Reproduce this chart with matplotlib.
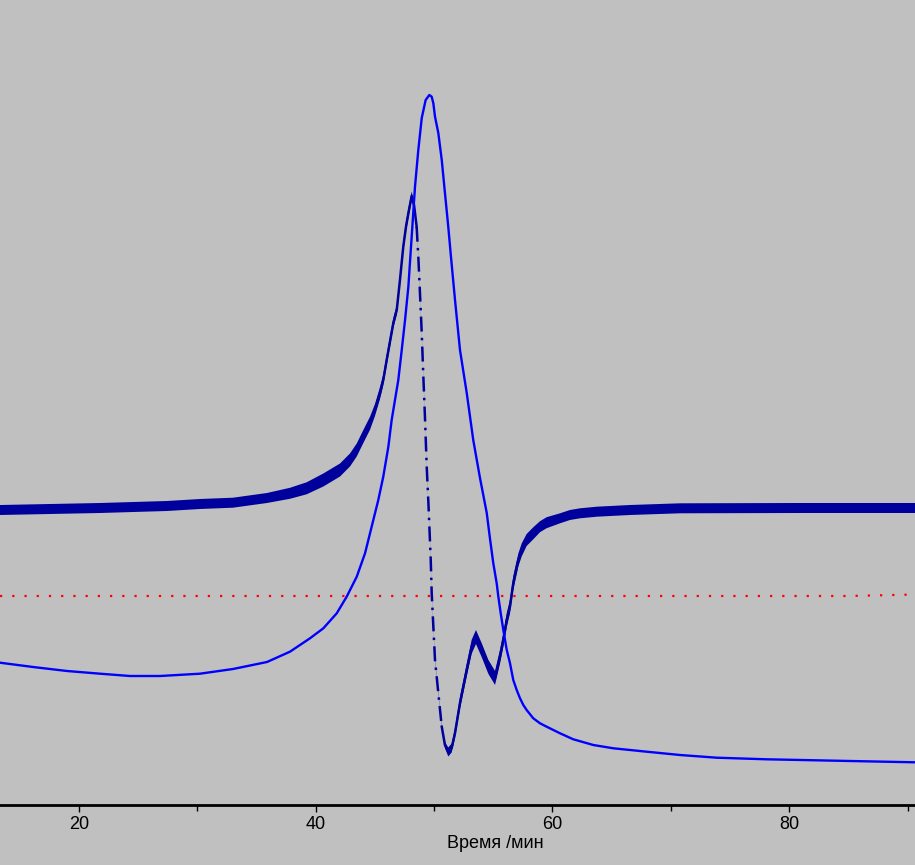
import matplotlib
matplotlib.use('Agg')
import matplotlib.pyplot as plt
from matplotlib.ticker import MultipleLocator

plt.rcParams['font.family'] = ['Liberation Sans', 'DejaVu Sans']

# время, мин / сигнал (отн. ед.)
t_uv = [13.35, 16.14, 19.01, 21.80, 24.33, 26.86, 30.24, 33.03, 35.90, 37.84,
        39.53, 40.66, 41.79, 42.63, 43.48, 44.18, 44.74, 45.30, 45.72, 46.15,
        46.43, 46.71, 46.99, 47.28, 47.56, 47.84, 48.12, 48.40, 48.68, 48.97,
        49.30, 49.61, 49.81, 49.95, 50.09, 50.37, 50.66, 50.93, 51.21, 51.44,
        51.78, 52.20, 52.77, 53.32, 53.89, 54.46, 54.73, 55.01, 55.30, 55.44,
        55.64, 55.86, 56.15, 56.42, 56.70, 56.99, 57.27, 57.55, 57.83, 58.39,
        58.96, 59.52, 60.65, 61.77, 63.46, 65.15, 67.97, 70.78, 73.88, 78.10,
        85.14, 90.63]
uv = [14.23, 13.80, 13.40, 13.13, 12.90, 12.90, 13.13, 13.60, 14.30, 15.33,
      16.67, 17.67, 19.17, 20.83, 22.83, 25.17, 27.83, 30.50, 32.83, 35.83,
      38.50, 40.50, 42.50, 45.50, 48.50, 51.83, 56.83, 61.83, 65.50, 68.70,
      70.50, 71.00, 70.83, 70.17, 68.83, 67.20, 64.50, 61.20, 57.83, 54.80,
      50.50, 45.50, 41.20, 36.50, 32.70, 29.20, 26.67, 24.20, 22.17, 20.83,
      19.17, 17.50, 15.50, 14.20, 12.50, 11.50, 10.67, 10.00, 9.50, 8.67,
      8.17, 7.83, 7.17, 6.57, 6.00, 5.67, 5.33, 5.00, 4.73, 4.57,
      4.40, 4.27]

t_cd = [13.35, 21.80, 27.45, 30.24, 33.03, 35.90, 37.84, 39.25, 40.66, 42.07,
        42.91, 43.48, 44.03, 44.60, 45.02, 45.44, 45.72, 46.01, 46.57, 46.86,
        47.13, 47.41, 47.64, 47.84, 48.12, 48.32, 48.54, 48.68, 48.82, 48.97,
        49.10, 49.24, 49.39, 49.54, 49.73, 49.81, 49.95, 50.09, 50.37, 50.66,
        50.93, 51.21, 51.50, 51.78, 52.20, 52.77, 53.19, 53.55, 54.03, 54.59,
        55.16, 55.58, 55.86, 56.15, 56.42, 56.70, 56.85, 57.13, 57.41, 57.83,
        58.39, 58.96, 59.52, 60.65, 61.49, 62.34, 63.75, 66.56, 70.78, 80.92,
        90.63]
cd = [29.50, 29.70, 29.90, 30.10, 30.23, 30.70, 31.17, 31.67, 32.50, 33.50,
      34.50, 35.50, 36.83, 38.17, 39.50, 41.17, 42.50, 44.50, 48.20, 49.50,
      52.50, 55.83, 57.83, 59.17, 60.90, 60.00, 57.83, 54.83, 51.20, 47.20,
      43.00, 38.83, 33.83, 30.00, 24.50, 21.20, 17.83, 14.50, 11.20, 7.83,
      6.00, 5.30, 5.70, 7.20, 10.20, 13.50, 15.83, 16.80, 15.50, 13.83,
      12.70, 14.83, 16.50, 18.50, 19.83, 22.17, 23.00, 24.50, 25.50, 26.50,
      27.17, 27.83, 28.23, 28.67, 29.00, 29.17, 29.33, 29.50, 29.67, 29.70,
      29.70]
# разброс шума (полуширина полосы)
cd_noise = [0.5, 0.5, 0.5, 0.5, 0.5, 0.5, 0.55, 0.6, 0.65, 0.65,
            0.65, 0.65, 0.65, 0.65, 0.6, 0.6, 0.55, 0.55, 0.5, 0.5,
            0.5, 0.5, 0.5, 0.5, 0.45, 0.3, 0.1, 0.1, 0.1, 0.1,
            0.1, 0.1, 0.1, 0.1, 0.1, 0.1, 0.1, 0.1, 0.1, 0.1,
            0.3, 0.45, 0.45, 0.5, 0.6, 0.65, 0.7, 0.7, 0.7, 0.7,
            0.7, 0.7, 0.7, 0.7, 0.7, 0.7, 0.7, 0.65, 0.65, 0.6,
            0.6, 0.55, 0.55, 0.5, 0.5, 0.5, 0.5, 0.5, 0.5, 0.5,
            0.5]

t_zero = [13.35, 85.0, 90.63]
zero = [20.9, 20.9, 21.05]

bg = '#c0c0c0'
dark = '#00009c'
fig = plt.figure(figsize=(9.15, 8.65), dpi=100, facecolor=bg)
ax = fig.add_axes([0, 60 / 865, 1, 805 / 865], facecolor=bg)

ax.plot(t_zero, zero, color='#ff0000', lw=1.6, linestyle=(0, (1, 4.5)))

lo = [c - n for c, n in zip(cd, cd_noise)]
hi = [c + n for c, n in zip(cd, cd_noise)]
ax.fill_between(t_cd, lo, hi, color=dark, lw=0)
# крутой спад рисуется редкими точками -> штрих-пунктир
i0 = t_cd.index(48.54)
i1 = t_cd.index(50.66)
ax.plot(t_cd[:i0 + 1], cd[:i0 + 1], color=dark, lw=1.8)
ax.plot(t_cd[i0:i1 + 1], cd[i0:i1 + 1], color=dark, lw=1.8,
        linestyle=(0, (6, 2.5, 1, 2.5)))
ax.plot(t_cd[i1:], cd[i1:], color=dark, lw=1.8)

ax.plot(t_uv, uv, color='#0000ff', lw=1.7)

ax.set_xlim(13.35, 90.63)
ax.set_ylim(0, 80.5)

for s in ['left', 'right', 'top']:
    ax.spines[s].set_visible(False)
ax.spines['bottom'].set_linewidth(2)
ax.set_yticks([])
ax.xaxis.set_major_locator(MultipleLocator(20))
ax.xaxis.set_minor_locator(MultipleLocator(10))
ax.tick_params(axis='x', which='major', length=5, width=1, pad=3, labelsize=13)
ax.tick_params(axis='x', which='minor', length=4, width=1)
ax.set_xlabel('Время /мин', fontsize=13, labelpad=1)
ax.xaxis.label.set_x(495 / 915)

fig.savefig('out.png', dpi=100, facecolor=bg)
